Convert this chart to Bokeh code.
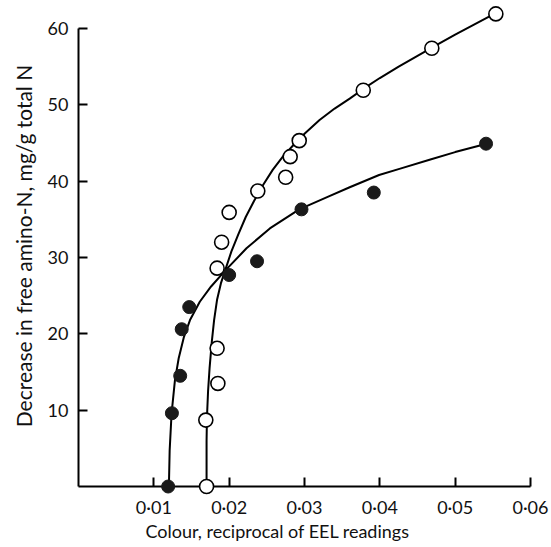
from bokeh.plotting import figure
from bokeh.models import Range1d, FixedTicker, CustomJSTickFormatter, Title
from bokeh.embed import file_html
from bokeh.resources import INLINE

# Open circles
x_open = [0.0170, 0.0169, 0.0185, 0.0184, 0.0184, 0.0190, 0.0200, 0.0238, 0.0275, 0.0281, 0.0293, 0.0378, 0.0469, 0.0554]
y_open = [0.0, 8.7, 13.5, 18.1, 28.6, 32.0, 35.9, 38.7, 40.5, 43.2, 45.3, 51.9, 57.4, 61.9]

# Filled circles
x_fill = [0.0119, 0.0124, 0.0135, 0.0137, 0.0147, 0.0200, 0.0237, 0.0296, 0.0392, 0.0541]
y_fill = [0.0, 9.6, 14.5, 20.6, 23.5, 27.7, 29.5, 36.3, 38.5, 44.9]

# Fitted curves
curve_open_x = [0.0170, 0.0170, 0.01705, 0.0172, 0.0174, 0.0177, 0.0180, 0.0184, 0.0189, 0.0195,
                0.0203, 0.0212, 0.0222, 0.0233, 0.0245, 0.0258, 0.0272, 0.0286, 0.0300, 0.0320,
                0.0340, 0.0360, 0.0380, 0.0400, 0.0425, 0.0450, 0.0475, 0.0500, 0.0525, 0.0550]
curve_open_y = [0.0, 6.0, 9.0, 12.5, 15.5, 19.0, 21.8, 24.5, 26.6, 28.4,
                30.8, 33.0, 35.3, 37.4, 39.5, 41.5, 43.3, 44.8, 46.2, 48.0,
                49.5, 50.8, 52.2, 53.5, 55.0, 56.4, 57.8, 59.2, 60.5, 61.8]

curve_fill_x = [0.0120, 0.0121, 0.01235, 0.0128, 0.0133, 0.0140, 0.0148, 0.0161, 0.0176, 0.0195,
                0.0223, 0.0254, 0.0293, 0.0330, 0.0360, 0.0399, 0.0426, 0.0466, 0.0500, 0.0538]
curve_fill_y = [0.0, 4.7, 9.5, 13.9, 16.8, 19.6, 21.8, 24.2, 26.2, 28.3,
                31.2, 33.8, 36.3, 37.9, 39.2, 40.8, 41.6, 42.8, 43.8, 44.8]

x_ticks = [0.01, 0.02, 0.03, 0.04, 0.05, 0.06]
y_ticks = [10, 20, 30, 40, 50, 60]

x_title = "Colour, reciprocal of EEL readings"
y_title = "Decrease in free amino-N, mg/g total N"

FONT = "Lato"

p = figure(width=551, height=547, x_range=Range1d(0, 0.06), y_range=Range1d(0, 63),
           output_backend="svg", toolbar_location=None,
           min_border_left=78, min_border_right=21, min_border_top=5, min_border_bottom=61)
p.outline_line_color = None
p.xgrid.visible = False
p.ygrid.visible = False
p.background_fill_color = "white"
p.border_fill_color = "white"

for ax in (p.xaxis[0], p.yaxis[0]):
    ax.axis_line_width = 2
    ax.axis_line_color = "black"
    ax.major_tick_in = 9
    ax.major_tick_out = 0
    ax.major_tick_line_width = 2
    ax.minor_tick_line_color = None
    ax.major_label_text_font = FONT
    ax.major_label_text_font_size = "18px"
    ax.major_label_text_color = "#111111"

p.yaxis.bounds = (0, 60)
p.xaxis.ticker = FixedTicker(ticks=x_ticks)
p.yaxis.ticker = FixedTicker(ticks=y_ticks)
p.xaxis.formatter = CustomJSTickFormatter(code="return tick.toFixed(2).replace('.', '\u00b7')")
p.xaxis.major_label_standoff = 9
p.yaxis.major_label_standoff = 10

p.yaxis.axis_label = y_title
p.yaxis.axis_label_text_font = FONT
p.yaxis.axis_label_text_font_size = "21px"
p.yaxis.axis_label_text_font_style = "normal"
p.yaxis.axis_label_text_color = "#111111"
p.yaxis.axis_label_standoff = 9

t = Title(text=x_title, align="left", offset=67, text_font=FONT, text_font_size="18px",
          text_font_style="normal", text_color="#111111", standoff=0)
try:
    t.standoff = -5
except Exception:
    pass
p.add_layout(t, "below")

p.line(curve_open_x, curve_open_y, line_color="black", line_width=2, line_join="round", level="overlay")
p.line(curve_fill_x, curve_fill_y, line_color="black", line_width=2, line_join="round", level="overlay")

p.scatter(x_open, y_open, size=14, marker="circle", fill_color="white", line_color="black",
          line_width=1.6, level="overlay")
p.scatter(x_fill, y_fill, size=13, marker="circle", fill_color="#1a1a1a", line_color="#1a1a1a",
          line_width=1, level="overlay")

open("out.html", "w").write(file_html(p, INLINE))
